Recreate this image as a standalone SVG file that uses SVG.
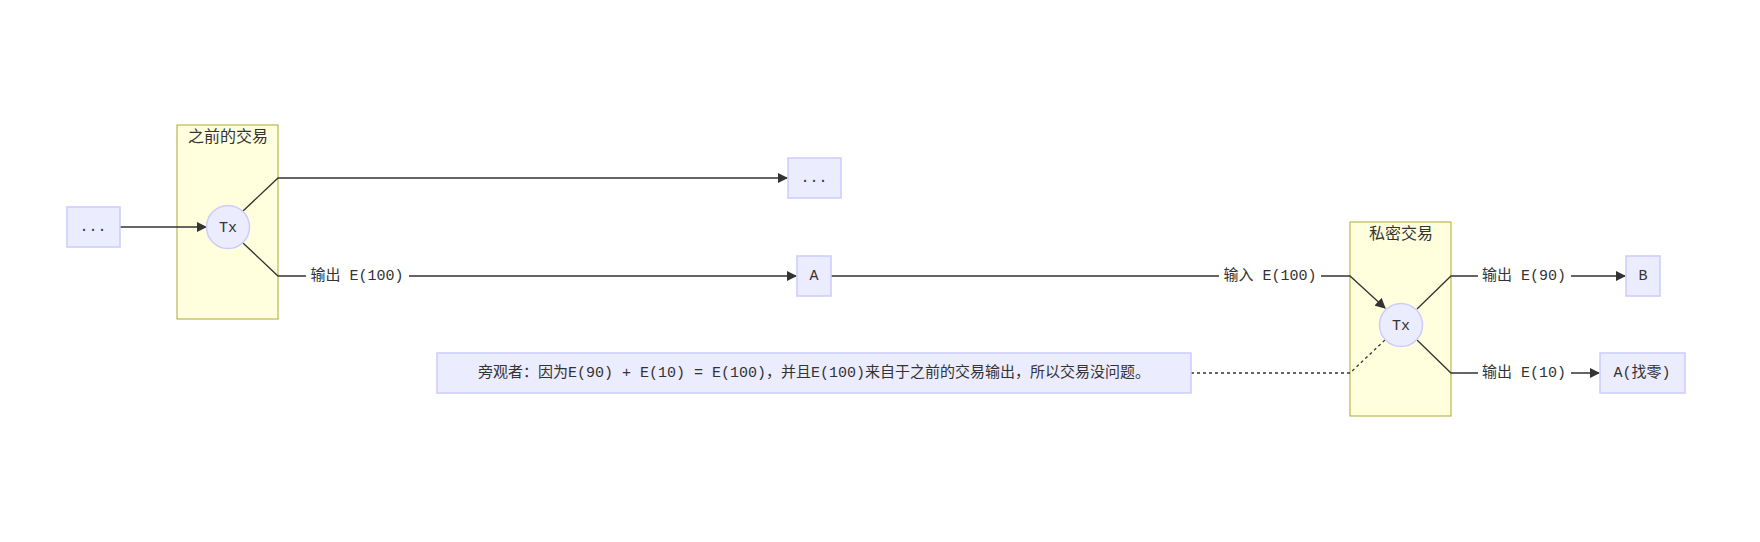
<svg xmlns="http://www.w3.org/2000/svg" width="1760" height="542" viewBox="0 0 1760 542">
<style>
.node{fill:#ECECFF;stroke:#ccccff;stroke-width:1.5}
.cl{fill:#ffffde;stroke:#aaaa33;stroke-width:1}
.e{fill:none;stroke:#333;stroke-width:1.3}
.t{font-family:"Liberation Mono","Noto Sans CJK SC",monospace;font-size:15px;fill:#333;text-anchor:middle;dominant-baseline:central}
.ct{font-family:"Liberation Sans","Noto Sans CJK SC",sans-serif;font-size:16px;fill:#333;text-anchor:middle}
.lb{fill:#fff}
</style>
<defs>
<marker id="ar" viewBox="0 0 10 10" refX="9" refY="5" markerWidth="8" markerHeight="8" orient="auto"><path d="M0,0L10,5L0,10z" fill="#333"/></marker>
</defs>
<g id="cluster1"><rect class="cl" x="177" y="125" width="101" height="194"/><text class="ct" x="228" y="142">之前的交易</text></g>
<g id="cluster2"><rect class="cl" x="1350" y="222" width="101" height="194"/><text class="ct" x="1401" y="239">私密交易</text></g>
<g id="edges">
<path class="e" d="M120,227H206" marker-end="url(#ar)"/>
<path class="e" d="M243,211L278,178H787" marker-end="url(#ar)"/>
<path class="e" d="M243,243L278,276H796" marker-end="url(#ar)"/>
<path class="e" d="M831,276H1350L1385,308" marker-end="url(#ar)"/>
<path class="e" d="M1417,309L1451,276H1625" marker-end="url(#ar)"/>
<path class="e" d="M1417,340L1451,373H1599" marker-end="url(#ar)"/>
<path class="e" d="M1191,373H1350L1385,340" stroke-width="2.5" stroke-dasharray="3,3"/>
<rect class="lb" x="306" y="266" width="103" height="20"/><text class="t" x="357" y="276">输出 E(100)</text>
<rect class="lb" x="1219" y="266" width="102" height="20"/><text class="t" x="1270" y="276">输入 E(100)</text>
<rect class="lb" x="1478" y="266" width="93" height="20"/><text class="t" x="1524" y="276">输出 E(90)</text>
<rect class="lb" x="1478" y="363" width="93" height="20"/><text class="t" x="1524" y="373">输出 E(10)</text>
</g>
<g id="n_left"><rect class="node" x="67" y="207" width="53" height="40"/><text class="t" x="93" y="227">...</text></g>
<g id="tx1"><circle class="node" cx="228" cy="227" r="21.5"/><text class="t" x="228" y="228">Tx</text></g>
<g id="n_top"><rect class="node" x="788" y="158" width="53" height="40"/><text class="t" x="814" y="178">...</text></g>
<g id="nA"><rect class="node" x="797" y="256" width="34" height="40"/><text class="t" x="814" y="276">A</text></g>
<g id="tx2"><circle class="node" cx="1401" cy="325" r="21.5"/><text class="t" x="1401" y="326">Tx</text></g>
<g id="nB"><rect class="node" x="1626" y="256" width="34" height="40"/><text class="t" x="1643" y="276">B</text></g>
<g id="nChange"><rect class="node" x="1600" y="353" width="85" height="40"/><text class="t" x="1642" y="373">A(找零)</text></g>
<g id="note"><rect class="node" x="437" y="353" width="754" height="40"/><text class="t" x="814" y="373">旁观者：因为E(90) + E(10) = E(100)，并且E(100)来自于之前的交易输出，所以交易没问题。</text></g>
</svg>
